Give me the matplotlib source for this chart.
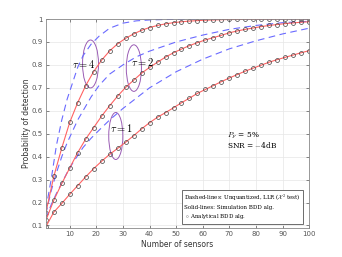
import matplotlib
matplotlib.use("Agg")
import matplotlib.pyplot as plt
from matplotlib.patches import Ellipse
import numpy as np

plt.rcParams["mathtext.fontset"] = "cm"

# sensors where analytical BDD values are marked
n_marks = list(range(1, 101, 3))

# BDD (solid red + circles), one list per tau
pd_tau1 = [0.094, 0.158, 0.196, 0.236, 0.274, 0.312, 0.348, 0.380, 0.410, 0.436,
           0.463, 0.491, 0.521, 0.548, 0.572, 0.592, 0.613, 0.635, 0.655, 0.676,
           0.693, 0.710, 0.727, 0.743, 0.758, 0.773, 0.786, 0.799, 0.812, 0.823,
           0.833, 0.843, 0.853, 0.862]
pd_tau2 = [0.122, 0.210, 0.283, 0.351, 0.418, 0.477, 0.527, 0.577, 0.622, 0.664,
           0.702, 0.733, 0.764, 0.789, 0.812, 0.834, 0.853, 0.869, 0.884, 0.897,
           0.909, 0.919, 0.929, 0.940, 0.948, 0.955, 0.961, 0.967, 0.972, 0.976,
           0.980, 0.983, 0.986, 0.988]
pd_tau4 = [0.155, 0.314, 0.438, 0.550, 0.636, 0.710, 0.771, 0.821, 0.861, 0.892,
           0.916, 0.935, 0.951, 0.963, 0.972, 0.979, 0.984, 0.988, 0.991, 0.993,
           0.995, 0.996, 0.997, 0.998, 0.998, 0.999, 0.999, 0.999, 0.999, 1.0,
           1.0, 1.0, 1.0, 1.0]

# unquantized LLR (dashed blue)
n_llr = [1, 3, 5, 7, 9, 11, 13, 15, 18, 21, 25, 30, 35, 40, 50, 60, 70, 80, 90, 100]
llr_tau4 = [0.17, 0.30, 0.45, 0.56, 0.65, 0.72, 0.79, 0.84, 0.89, 0.925, 0.96,
            0.982, 0.992, 0.996, 0.999, 1.0, 1.0, 1.0, 1.0, 1.0]
llr_tau2 = [0.15, 0.25, 0.33, 0.40, 0.46, 0.51, 0.56, 0.60, 0.66, 0.71, 0.76,
            0.80, 0.835, 0.86, 0.90, 0.93, 0.955, 0.972, 0.984, 0.99]
llr_tau1 = [0.13, 0.19, 0.24, 0.285, 0.33, 0.37, 0.405, 0.44, 0.48, 0.515, 0.56,
            0.61, 0.655, 0.70, 0.77, 0.825, 0.87, 0.905, 0.935, 0.96]

red = "#ff6262"
blue = "#6a6aff"
purple = "#9a5cb4"

fig = plt.figure(figsize=(3.42, 2.57), dpi=100)
ax = fig.add_axes([0.134, 0.113, 0.770, 0.813])

for llr in (llr_tau4, llr_tau2, llr_tau1):
    ax.plot(n_llr, llr, color=blue, lw=0.8, dashes=(6, 4))

for pd_vals in (pd_tau4, pd_tau2, pd_tau1):
    ax.plot(n_marks, pd_vals, color=red, lw=0.8)
    ax.plot(n_marks, pd_vals, ls="none", marker="o", ms=2.8, mfc="none",
            mec="#404040", mew=0.5)

# tau annotations
for (cx, cy, w, h) in [(17.8, 0.804, 6.0, 0.209), (34.1, 0.786, 5.7, 0.203),
                       (27.3, 0.490, 5.3, 0.205)]:
    ax.add_patch(Ellipse((cx, cy), w, h, fill=False, ec=purple, lw=0.7))
ax.text(15.1, 0.806, r"$\tau = 4$", fontsize=7.5, ha="center", va="center")
ax.text(37.4, 0.812, r"$\tau = 2$", fontsize=7.5, ha="center", va="center")
ax.text(29.5, 0.523, r"$\tau = 1$", fontsize=7.5, ha="center", va="center")

ax.text(69, 0.490, r"$P_F$ = 5%", fontsize=5.3, family="serif", va="center")
ax.text(69, 0.449, r"SNR = $-$4dB", fontsize=5.3, family="serif", va="center")

legend_txt = ("Dashed-lines: Unquantized, LLR ($\\mathcal{X}^2$ test)\n"
              "Solid-lines: Simulation BDD alg.\n"
              r" $\circ$ Analytical BDD alg.")
ax.text(53.0, 0.181, legend_txt, fontsize=4.0, family="serif", va="center",
        linespacing=1.45,
        bbox=dict(boxstyle="square,pad=0.45", fc="white", ec="#555555", lw=0.6))

ax.set_xlim(1, 100)
ax.set_ylim(0.089, 1)
ax.set_xticks(range(10, 101, 10))
ax.set_yticks(np.arange(0.1, 1.01, 0.1))
ax.set_yticklabels(["0.1", "0.2", "0.3", "0.4", "0.5", "0.6", "0.7", "0.8", "0.9", "1"])
ax.tick_params(labelsize=5, colors="#555555", direction="in", length=2, width=0.5,
               top=True, right=True, pad=2)
ax.grid(color="#e6e6e6", lw=0.5)
ax.set_axisbelow(True)
for s in ax.spines.values():
    s.set_color("#888888")
    s.set_linewidth(0.6)

ax.set_xlabel("Number of sensors", fontsize=5.5, color="#333333", labelpad=2)
ax.set_ylabel("Probability of detection", fontsize=5.5, color="#333333", labelpad=0.5)

fig.savefig("out.png", dpi=100)
